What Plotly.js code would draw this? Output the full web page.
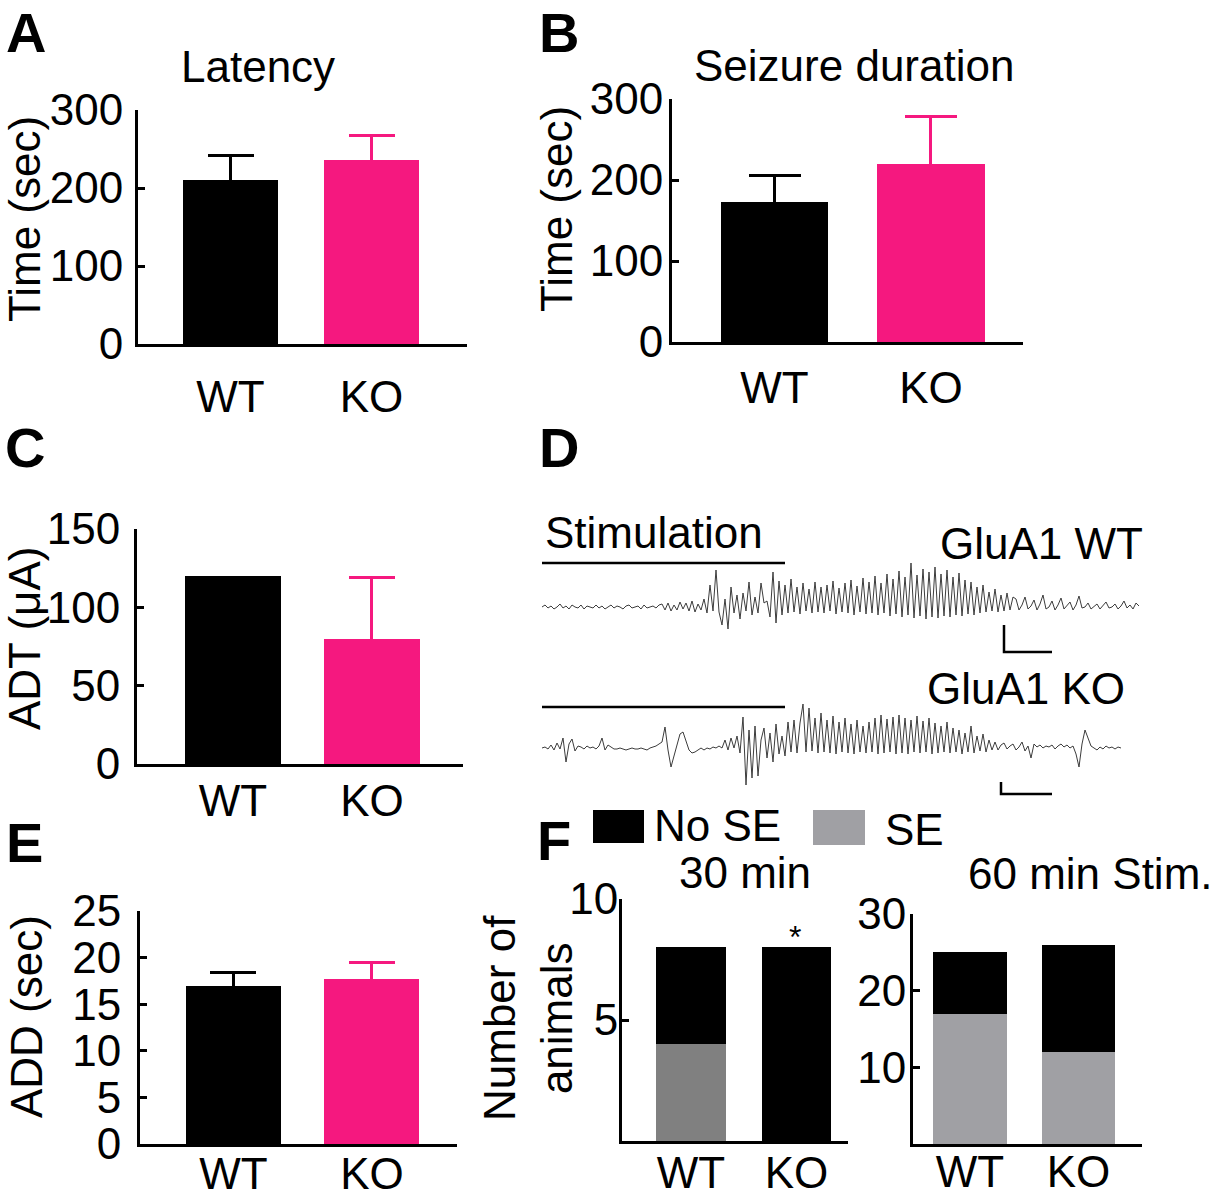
<!DOCTYPE html>
<html>
<head>
<meta charset="utf-8">
<script src="https://cdn.plot.ly/plotly-3.0.1.min.js"></script>
<style>html,body{margin:0;padding:0;background:#fff;}#chart{width:1214px;height:1200px;}</style>
</head>
<body>
<div id="chart"></div>
<script>
// ---------------- DATA ----------------
const groups = ['WT', 'KO'];
const groupColors = ['#000000', '#f5187f'];

const latencyTitle = 'Latency';
const latency = [210, 236];
const latencyErr = [32, 31];
const latencyTicks = [0, 100, 200, 300];

const seizureTitle = 'Seizure duration';
const seizureDur = [173, 220];
const seizureErr = [32, 58];
const seizureTicks = [0, 100, 200, 300];

const adt = [120, 80];
const adtErr = [0, 39];
const adtTicks = [0, 50, 100, 150];

const addVals = [17, 17.7];
const addErr = [1.4, 1.75];
const addTicks = [0, 5, 10, 15, 20, 25];

const seLabels = ['No SE', 'SE'];
const se30 = [4, 0];
const noSe30 = [4, 8];
const ticks30 = [5, 10];
const se60 = [17, 12];
const noSe60 = [8, 14];
const ticks60 = [10, 20, 30];

// EEG traces (sample index, amplitude in arbitrary units)
const eegWT = [
  0,2,-1,1,-2,0,3,-1,1,-2,2,0,-1,2,-2,1,0,-1,2,-1,1,-2,0,2,-1,1,0,-2,1,2,-1,0,1,-2,2,-1,0,1,-1,2,
  3,-3,4,-4,2,-3,5,-2,4,-4,6,-5,3,-3,8,-6,
  22,-4,37,-5,-18,8,-22,20,-6,12,-12,14,-4,25,-8,10,-6,24,4,6,-10,35,-16,
  26,-8,22,-6,28,-5,20,-7,24,-4,18,-6,25,-5,20,-6,22,-4,26,-7,
  19,-5,24,-6,27,-8,21,-5,29,-7,25,-6,31,-8,24,-6,33,-9,28,-7,
  36,-10,30,-8,44,-11,32,-9,38,-12,35,-10,40,-11,33,-9,37,-10,30,-8,
  34,-9,27,-7,25,-8,20,-6,22,-5,15,-4,18,-5,12,-4,14,-3,10,
  8,-3,2,10,-2,1,7,-3,3,12,-2,0,6,-3,2,9,-2,1,5,-3,2,11,-1,0,4,-2,1,3,-2,2,5,-1,0,3,-2,1,6,-1,2,-2,4,1
];
const eegKO = [
  0,1,-1,3,-2,5,-1,10,-14,4,9,-3,2,1,-1,2,0,1,-1,2,
  10,-2,3,1,-1,
  -1,0,-1,-2,-1,0,-1,-1,0,-1,-2,0,1,2,4,6,
  21,-2,-19,-8,4,14,16,8,-2,-5,-4,-2,0,-2,0,-1,1,0,2,0,
  8,-2,10,0,12,-5,31,-37,18,-30,22,-28,8,20,-10,15,-14,24,-6,12,-8,26,-4,28,-5,25,
  44,-4,40,-3,30,-5,35,-4,28,-5,32,-6,26,-4,30,-5,24,-6,28,-4,
  22,-5,26,-4,30,-6,33,-5,29,-4,31,-6,33,-5,30,-6,28,-4,32,-5,
  27,-4,30,-6,25,-5,22,-4,26,-5,20,-4,18,-6,15,-4,22,-5,12,-3,
  14,-4,8,-2,
  6,-2,3,5,-1,2,4,-2,1,6,-3,2,-10,4,1,3,0,2,1,3,
  -1,2,4,1,3,0,2,-6,-19,4,18,10,2,0,-2,1,-1,2,0,1,-1,1,0
];
const stimX = [0, 81];
const stimYWT = [44, 44];
const stimYKO = [41, 41];
const scaleXWT = [154, 154, 170];
const scaleYWT = [-18, -45, -45];
const scaleXKO = [153, 153, 170];
const scaleYKO = [-34, -46, -46];

// ---------------- LAYOUT HELPERS ----------------
const W = 1214, H = 1200;
const FONT = 'Liberation Sans, Arial, Helvetica, sans-serif';
const FS = 44;
function dx(a, b) { return [a / W, b / W]; }
function dy(t, b) { return [1 - b / H, 1 - t / H]; }
function ax(x) { return x / W; }
function ay(y) { return 1 - y / H; }

const traces = [];

function barPair(vals, errs, xa, ya, width, capW) {
  groups.forEach((g, i) => {
    const t = {
      type: 'bar', x: [g], y: [vals[i]], xaxis: xa, yaxis: ya,
      width: [width], marker: {color: groupColors[i], line: {width: 0}},
      showlegend: false, hoverinfo: 'skip'
    };
    if (errs[i] > 0) {
      t.error_y = {type: 'data', symmetric: true, array: [errs[i]],
        color: groupColors[i], thickness: 3, width: capW, visible: true};
    }
    traces.push(t);
  });
}
barPair(latency, latencyErr, 'x', 'y', 0.67, 23);
barPair(seizureDur, seizureErr, 'x2', 'y2', 0.684, 26);
barPair(adt, adtErr, 'x3', 'y3', 0.69, 23);
barPair(addVals, addErr, 'x4', 'y4', 0.686, 23);

// F stacked bars
traces.push({type: 'bar', name: seLabels[1], x: groups, y: se30, xaxis: 'x5', yaxis: 'y5', width: [0.66, 0.66],
  marker: {color: '#808080'}, showlegend: false, hoverinfo: 'skip'});
traces.push({type: 'bar', name: seLabels[0], x: groups, y: noSe30, xaxis: 'x5', yaxis: 'y5', width: [0.66, 0.66],
  marker: {color: '#000000'}, showlegend: false, hoverinfo: 'skip'});
traces.push({type: 'bar', name: seLabels[1], x: groups, y: se60, xaxis: 'x6', yaxis: 'y6', width: [0.68, 0.68],
  marker: {color: '#a0a0a4'}, showlegend: false, hoverinfo: 'skip'});
traces.push({type: 'bar', name: seLabels[0], x: groups, y: noSe60, xaxis: 'x6', yaxis: 'y6', width: [0.68, 0.68],
  marker: {color: '#000000'}, showlegend: false, hoverinfo: 'skip'});

// D traces
traces.push({type: 'scatter', mode: 'lines', x: eegWT.map((v, i) => i), y: eegWT, xaxis: 'x7', yaxis: 'y7',
  line: {color: '#3c3c3c', width: 1}, showlegend: false, hoverinfo: 'skip'});
traces.push({type: 'scatter', mode: 'lines', x: eegKO.map((v, i) => i), y: eegKO, xaxis: 'x8', yaxis: 'y8',
  line: {color: '#3c3c3c', width: 1}, showlegend: false, hoverinfo: 'skip'});
traces.push({type: 'scatter', mode: 'lines', x: stimX, y: stimYWT, xaxis: 'x7', yaxis: 'y7',
  line: {color: '#000', width: 2.5}, showlegend: false, hoverinfo: 'skip'});
traces.push({type: 'scatter', mode: 'lines', x: stimX, y: stimYKO, xaxis: 'x8', yaxis: 'y8',
  line: {color: '#000', width: 2.5}, showlegend: false, hoverinfo: 'skip'});
traces.push({type: 'scatter', mode: 'lines', x: scaleXWT, y: scaleYWT, xaxis: 'x7', yaxis: 'y7',
  line: {color: '#000', width: 2.5}, showlegend: false, hoverinfo: 'skip'});
traces.push({type: 'scatter', mode: 'lines', x: scaleXKO, y: scaleYKO, xaxis: 'x8', yaxis: 'y8',
  line: {color: '#000', width: 2.5}, showlegend: false, hoverinfo: 'skip'});

function xAxis(anchor, domain, range, standoff) {
  return {anchor: anchor, domain: domain, type: 'category', categoryarray: groups, range: range,
    showline: true, linewidth: 3, linecolor: '#000', ticks: '', showgrid: false, zeroline: false,
    tickfont: {family: FONT, size: FS, color: '#000'}, ticklabelstandoff: standoff, fixedrange: true};
}
function yAxis(anchor, domain, range, tickvals, standoff) {
  return {anchor: anchor, domain: domain, range: range, tickvals: tickvals, ticktext: tickvals.map(String),
    showline: true, linewidth: 3, linecolor: '#000', ticks: 'inside', ticklen: 7, tickwidth: 3, tickcolor: '#000',
    showgrid: false, zeroline: false, tickfont: {family: FONT, size: FS, color: '#000'},
    ticklabelstandoff: standoff, fixedrange: true};
}
function hidden(anchor, domain, range) {
  return {anchor: anchor, domain: domain, range: range, visible: false, showgrid: false, zeroline: false, fixedrange: true};
}

function ann(text, x, y, opts) {
  return Object.assign({text: text, x: ax(x), y: ay(y), xref: 'paper', yref: 'paper',
    showarrow: false, xanchor: 'center', yanchor: 'middle',
    font: {family: FONT, size: FS, color: '#000'}}, opts || {});
}
function letter(t, x, y) {
  return ann('<b>' + t + '</b>', x, y, {font: {family: FONT, size: 56, color: '#000'}});
}

const annotations = [
  letter('A', 26, 33), letter('B', 559, 33), letter('C', 25, 447), letter('D', 559, 447),
  letter('E', 25, 842), letter('F', 554, 840),
  ann(latencyTitle, 258, 67),
  ann(seizureTitle, 854, 65),
  ann('Time (sec)', 24, 219, {textangle: -90}),
  ann('Time (sec)', 556, 209, {textangle: -90}),
  ann('ADT (μA)', 24, 639, {textangle: -90}),
  ann('ADD (sec)', 26, 1017, {textangle: -90}),
  ann('Number of<br>animals', 528, 1018, {textangle: -90}),
  ann('Stimulation', 654, 533),
  ann('GluA1 WT', 1041, 543),
  ann('GluA1 KO', 1026, 688),
  ann(seLabels[0], 652, 825, {xanchor: 'left'}),
  ann(seLabels[1], 883, 829, {xanchor: 'left'}),
  ann('30 min', 745, 872),
  ann('60 min Stim.', 1090, 873),
  ann('*', 795, 937, {font: {family: FONT, size: 32, color: '#000'}})
];

const shapes = [
  {type: 'rect', xref: 'paper', yref: 'paper', x0: ax(593), x1: ax(644), y0: ay(843), y1: ay(810),
    fillcolor: '#000', line: {width: 0}},
  {type: 'rect', xref: 'paper', yref: 'paper', x0: ax(813), x1: ax(865), y0: ay(845), y1: ay(810),
    fillcolor: '#a0a0a4', line: {width: 0}}
];

const layout = {
  width: W, height: H, margin: {l: 0, r: 0, t: 0, b: 0, pad: 0},
  paper_bgcolor: '#fff', plot_bgcolor: 'rgba(0,0,0,0)',
  barmode: 'stack', showlegend: false,
  font: {family: FONT, size: FS, color: '#000'},
  xaxis: xAxis('y', dx(138, 467), [-0.656, 1.677], 12),
  yaxis: yAxis('x', dy(110, 344), [0, 300], latencyTicks, 3),
  xaxis2: xAxis('y2', dx(672, 1023), [-0.655, 1.588], 5),
  yaxis2: yAxis('x2', dy(99, 342), [0, 300], seizureTicks, -3),
  xaxis3: xAxis('y3', dx(137, 463), [-0.69, 1.655], -4),
  yaxis3: yAxis('x3', dy(529, 764), [0, 150], adtTicks, 5),
  xaxis4: xAxis('y4', dx(140, 457), [-0.675, 1.614], -11),
  yaxis4: yAxis('x4', dy(911, 1144), [0, 25], addTicks, 7),
  xaxis5: xAxis('y5', dx(622, 848), [-0.654, 1.488], -9),
  yaxis5: yAxis('x5', dy(899, 1141), [0, 10], ticks30, -8),
  xaxis6: xAxis('y6', dx(913, 1142), [-0.525, 1.585], -13),
  yaxis6: yAxis('x6', dy(914, 1144), [0, 30], ticks60, -5),
  xaxis7: hidden('y7', dx(530, 1160), [-4, 206]),
  yaxis7: hidden('x7', dy(557, 657), [-50, 50]),
  xaxis8: hidden('y8', dx(530, 1160), [-4, 206]),
  yaxis8: hidden('x8', dy(686, 806), [-58, 62]),
  annotations: annotations,
  shapes: shapes
};

Plotly.newPlot('chart', traces, layout, {staticPlot: true, displayModeBar: false});
</script>
</body>
</html>
